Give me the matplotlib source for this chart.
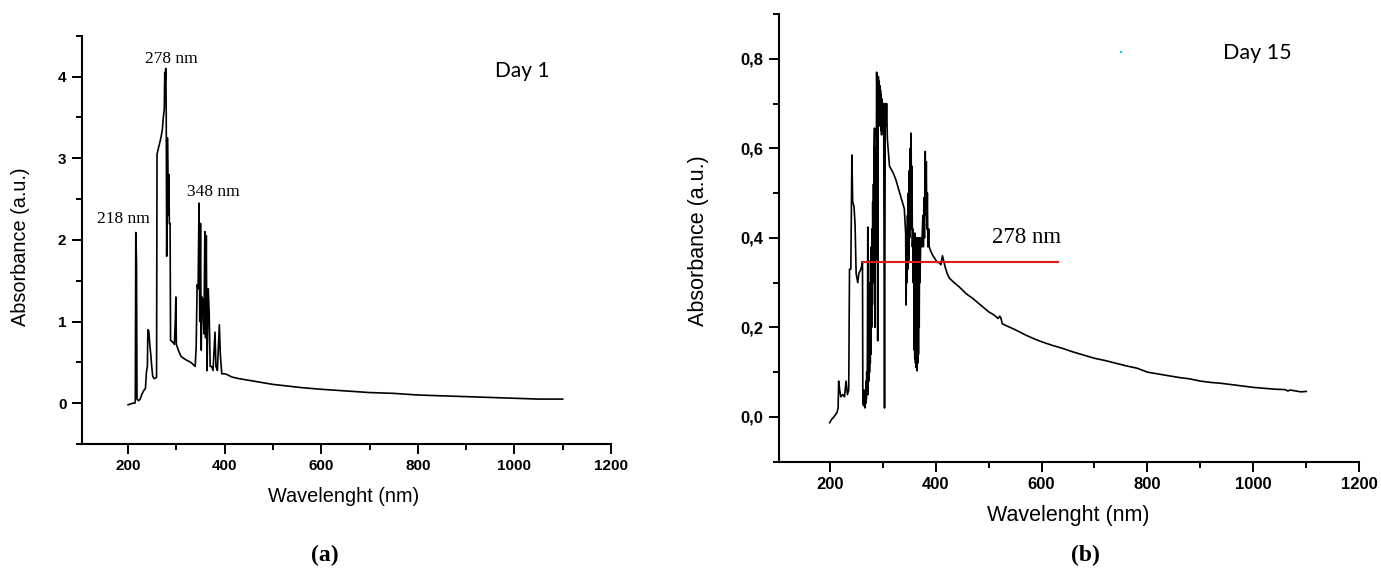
import matplotlib
matplotlib.use("Agg")
import matplotlib.pyplot as plt
from matplotlib.ticker import MultipleLocator, FuncFormatter

# ---------------- data ----------------
day1_wl = [200, 205, 210, 214, 215, 216, 217.5, 218.5, 222, 225, 228, 232, 236, 238, 240,
           241, 243, 245, 247, 249, 251, 254, 258, 259, 260, 264, 268, 271, 273, 275,
           276, 277, 278, 279, 280, 281.5, 282.5, 283.5, 284.5, 285.5, 287, 288, 292, 296,
           298, 299, 300, 304, 310, 320, 330, 339, 341, 343, 345, 347, 348.5, 350, 351.5,
           353, 355, 357, 359, 360.5, 362, 363.5, 366, 368, 370, 373, 376, 380, 382, 385,
           389, 391, 394, 400, 405, 415, 430, 450, 470, 500, 530, 560, 600, 650, 700, 750,
           800, 850, 900, 950, 1000, 1050, 1100]
day1_abs = [-0.02, -0.01, 0.0, 0.0, 0.02, 2.09, 1.72, 0.05, 0.03, 0.05, 0.1, 0.15, 0.18, 0.38, 0.45,
            0.9, 0.88, 0.72, 0.6, 0.45, 0.33, 0.3, 0.31, 0.32, 3.05, 3.15, 3.25, 3.35, 3.5, 3.6,
            4.05, 3.9, 4.1, 3.6, 1.8, 3.25, 2.85, 2.3, 2.8, 2.2, 2.2, 0.77, 0.75, 0.72,
            1.05, 1.3, 0.72, 0.65, 0.57, 0.53, 0.5, 0.45, 0.68, 1.45, 1.4, 2.45, 1.0, 2.2, 0.65,
            1.3, 1.25, 0.85, 2.1, 0.8, 2.05, 0.4, 1.4, 1.1, 0.45, 0.45, 0.4, 0.87, 0.45, 0.4,
            0.96, 0.6, 0.36, 0.36, 0.35, 0.32, 0.3, 0.28, 0.26, 0.23, 0.21, 0.19, 0.17, 0.15, 0.13, 0.12,
            0.10, 0.09, 0.08, 0.07, 0.06, 0.05, 0.05]

day15_wl = [200, 204, 208, 214, 216, 217, 219, 221, 225, 228, 231, 233.5, 236, 237.5, 240,
            242, 243.5, 246, 248, 250, 253, 255, 259, 262,
            262.7, 263.3, 264, 264.7, 265.3, 266, 266.7, 267.3, 268, 268.7, 269.3, 270, 270.7,
            271.3, 272, 272.7, 273.3, 274, 274.7, 275.3, 276, 276.7, 277.3, 278, 278.7, 279.3,
            280, 280.7, 281.3, 282, 282.7, 283.3, 284, 284.7, 285.3, 286, 286.7, 287.3, 288,
            288.7, 289.3, 290, 290.7, 291.3, 292, 292.7, 293.3, 294, 294.7, 295.3, 296, 296.7,
            297.3, 298, 298.7, 299.3, 300, 300.7, 301.3, 302, 303.6, 305, 306.5, 307.5, 309,
            313, 320, 325, 331, 336, 341, 343.5, 344.4, 345.3, 346, 347, 347.7, 348.5, 349.3,
            350.2, 351, 352, 353, 353.8, 354.6, 355.4, 356.2, 357, 357.8, 358.6, 359.3, 360,
            360.7, 361.4, 362.1, 362.8, 363.5, 364.2, 364.9, 365.6, 366.3, 367, 367.7, 368.4,
            369.1, 369.8, 370.5, 372, 374, 376, 377, 378, 379, 380.5, 381.5, 382.5, 383.5,
            384.5, 385.5, 387, 388, 391, 395, 398, 403, 407, 410, 413, 415, 418, 422, 426, 435,
            445, 458, 470, 480, 490, 500, 510, 518, 521, 523, 526, 535, 550, 570, 585, 600, 620,
            640, 660, 680, 700, 720, 740, 760, 780, 800, 820, 840, 860, 880, 900, 920, 940, 960,
            980, 1000, 1020, 1040, 1060, 1065, 1070, 1080, 1090, 1100]
day15_abs = [-0.013, -0.005, 0.0, 0.01, 0.02, 0.08, 0.06, 0.045, 0.05, 0.045, 0.08, 0.05, 0.06, 0.33, 0.33,
             0.585, 0.48, 0.47, 0.43, 0.32, 0.30, 0.32, 0.33, 0.345,
             0.03, 0.05, 0.025, 0.06, 0.03, 0.05, 0.02, 0.06, 0.03, 0.08, 0.04, 0.1, 0.05,
             0.15, 0.424, 0.05, 0.2, 0.08, 0.25, 0.1, 0.3, 0.12, 0.35, 0.14, 0.38, 0.2,
             0.42, 0.25, 0.48, 0.3, 0.52, 0.33, 0.6, 0.645, 0.2, 0.5, 0.35, 0.6, 0.5,
             0.77, 0.72, 0.76, 0.17, 0.7, 0.76, 0.68, 0.75, 0.65, 0.74, 0.66, 0.73, 0.64,
             0.72, 0.63, 0.71, 0.64, 0.70, 0.66, 0.70, 0.69, 0.02, 0.70, 0.65, 0.70, 0.62,
             0.56, 0.545, 0.53, 0.505, 0.485, 0.465, 0.41, 0.25, 0.41, 0.30, 0.45, 0.33, 0.50, 0.35,
             0.55, 0.40, 0.60, 0.45, 0.634, 0.42, 0.56, 0.38, 0.42, 0.30, 0.41, 0.15, 0.41,
             0.13, 0.41, 0.12, 0.40, 0.11, 0.40, 0.103, 0.40, 0.12, 0.39, 0.14, 0.40,
             0.20, 0.40, 0.30, 0.40, 0.38, 0.45, 0.38, 0.49, 0.40, 0.593, 0.45, 0.57, 0.42,
             0.50, 0.38, 0.42, 0.38, 0.37, 0.36, 0.355, 0.345, 0.345, 0.34, 0.36, 0.35, 0.335, 0.32, 0.31, 0.30,
             0.29, 0.275, 0.265, 0.255, 0.245, 0.235, 0.228, 0.22, 0.225, 0.222, 0.208, 0.203, 0.195, 0.183, 0.175, 0.168, 0.16,
             0.153, 0.145, 0.138, 0.131, 0.126, 0.12, 0.114, 0.109, 0.100, 0.096, 0.092, 0.088, 0.085, 0.080, 0.077, 0.075, 0.072,
             0.069, 0.066, 0.064, 0.062, 0.061, 0.058, 0.060, 0.058, 0.056, 0.057]

# red reference line on Day 15 panel
ref_wl = [262, 631]
ref_abs = [0.347, 0.347]
# stray cyan dot in Day 15 panel
dot_wl = [750]
dot_abs = [0.816]

# annotations: (text, wavelength, absorbance)
day1_notes = [("278 nm", 289, 4.21), ("218 nm", 190, 2.25), ("348 nm", 376, 2.58)]
day15_note = ("278 nm", 572, 0.40)

x_ticks = [200, 400, 600, 800, 1000, 1200]

# ---------------- figure ----------------
W, H = 1381, 571
fig = plt.figure(figsize=(W / 100, H / 100), dpi=100)
fig.patch.set_facecolor("white")

def px_axes(l, r, t, b):
    return fig.add_axes([l / W, 1 - b / H, (r - l) / W, (b - t) / H])

axA = px_axes(81.7, 611, 35.7, 444)
axB = px_axes(778.8, 1359.3, 14, 461.7)

sans = "Liberation Sans"
serif = "Liberation Serif"

def style(ax, tick_fs, ymajor, yminor):
    for s in ("top", "right"):
        ax.spines[s].set_visible(False)
    for s in ("left", "bottom"):
        ax.spines[s].set_linewidth(1.5)
    ax.xaxis.set_major_locator(MultipleLocator(200))
    ax.xaxis.set_minor_locator(MultipleLocator(100))
    ax.yaxis.set_major_locator(MultipleLocator(ymajor))
    ax.yaxis.set_minor_locator(MultipleLocator(yminor))
    ax.tick_params(which="major", direction="out", length=7, width=1.4,
                   labelsize=tick_fs, pad=4)
    ax.tick_params(which="minor", direction="out", length=4, width=1.4)

def bold_ticks(ax):
    for lab in ax.get_xticklabels() + ax.get_yticklabels():
        lab.set_fontfamily(sans)
        lab.set_fontweight("bold")

# ---- panel (a) ----
axA.plot(day1_wl, day1_abs, color="black", lw=1.2)
axA.set_xlim(104, 1200)
axA.set_ylim(-0.5, 4.5)
style(axA, 11, 1, 0.5)
axA.set_xticks(x_ticks)
axA.yaxis.set_major_formatter(FuncFormatter(lambda v, p: f"{v:.0f}"))
bold_ticks(axA)
for txt, xw, ya in day1_notes:
    axA.text(xw, ya, txt, ha="center", va="center", fontsize=12.5, family=serif)
axA.text(1016, 4.07, "Day 1", ha="center", va="center", fontsize=15, family="Lato")
axA.set_xlabel("Wavelenght (nm)", fontsize=14.3, family=sans, va="center")
axA.set_ylabel("Absorbance (a.u.)", fontsize=14.3, family=sans, va="center")
axA.xaxis.set_label_coords(0.4956, -0.1298)
axA.yaxis.set_label_coords(-0.1147, 0.4825)

# ---- panel (b) ----
axB.plot(day15_wl, day15_abs, color="black", lw=1.2)
axB.plot(ref_wl, ref_abs, color="#e3191c", lw=1.5)
axB.plot(dot_wl, dot_abs, ls="none", marker="s", ms=1.5, color="#00c8e8", mew=0)
axB.set_xlim(104, 1200)
axB.set_ylim(-0.1, 0.9)
style(axB, 12, 0.2, 0.1)
axB.set_xticks(x_ticks)
axB.yaxis.set_major_formatter(FuncFormatter(lambda v, p: f"{v:.1f}".replace(".", ",")))
bold_ticks(axB)
axB.text(day15_note[1], day15_note[2], day15_note[0], ha="center", va="center",
         fontsize=16.5, family=serif)
axB.text(1007, 0.813, "Day 15", ha="center", va="center", fontsize=15.5, family="Lato")
axB.set_xlabel("Wavelenght (nm)", fontsize=15.5, family=sans, va="center")
axB.set_ylabel("Absorbance (a.u.)", fontsize=15.5, family=sans, va="center")
axB.xaxis.set_label_coords(0.4992, -0.1201)
axB.yaxis.set_label_coords(-0.1385, 0.494)

# panel letters
fig.text(325 / W, 1 - 555 / H, "(a)", ha="center", va="center", fontsize=17,
         family=serif, fontweight="bold")
fig.text(1085 / W, 1 - 555 / H, "(b)", ha="center", va="center", fontsize=17,
         family=serif, fontweight="bold")

fig.savefig("out.png", dpi=100, facecolor="white")
